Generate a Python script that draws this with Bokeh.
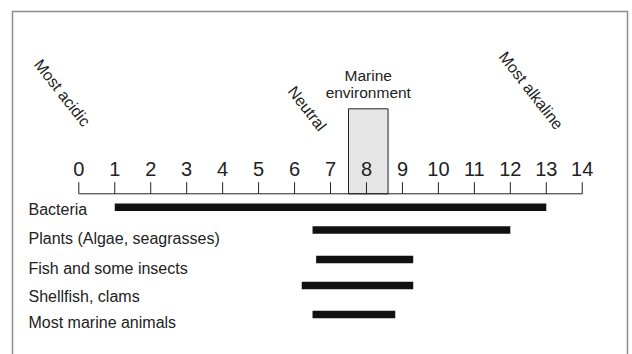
from bokeh.plotting import figure
from bokeh.models import Range1d, ColumnDataSource
from bokeh.core.properties import value
from bokeh.embed import file_html
from bokeh.resources import INLINE

# ---------------- data ----------------
categories = ["Bacteria", "Plants (Algae, seagrasses)", "Fish and some insects",
              "Shellfish, clams", "Most marine animals"]
ph_low = [1.0, 6.5, 6.6, 6.2, 6.5]
ph_high = [13.0, 12.0, 9.3, 9.3, 8.8]
tick_values = list(range(0, 15))
tick_labels = [str(t) for t in tick_values]
marine_env_low, marine_env_high = 7.5, 8.6
scale_notes = ["Most acidic", "Neutral", "Most alkaline"]

# ---------------- layout (pixels from top of figure) ----------------
W, H = 632, 354
PH0_PX = 78.3        # horizontal pixel of pH 0
PX_PER_PH = 35.96
x_start = -PH0_PX / PX_PER_PH
x_end = x_start + W / PX_PER_PH


def px2x(px):
    return x_start + px / PX_PER_PH


row_y = [206.7, 229.5, 259.0, 285.0, 314.0]
label_y = [209.0, 238.0, 268.0, 296.0, 322.0]
axis_y = 193.3
tick_top = 181.7
tick_label_y = 168.5
box_top = 108.3
note_x = [-0.46, 6.35, 12.58]
note_y = [92.3, 108.0, 90.0]

FONT = value("Liberation Sans")
TXT = "#222222"

p = figure(width=W, height=H, x_range=Range1d(x_start, x_end),
           y_range=Range1d(H, 0), output_backend="svg", toolbar_location=None,
           min_border=0, x_axis_location=None, y_axis_location=None)
p.grid.visible = False
p.outline_line_color = None
p.background_fill_color = "white"
p.border_fill_color = "white"

# frame
p.line(x=[px2x(12), px2x(12), px2x(627), px2x(627)], y=[H + 10, 11, 11, H + 10],
       line_color="#8c8c8c", line_width=1.5)

# marine environment box
p.quad(left=[marine_env_low], right=[marine_env_high], top=[box_top], bottom=[axis_y],
       fill_color="#e6e6e6", line_color="#222222", line_width=1)

# axis line and ticks
p.segment(x0=[tick_values[0]], x1=[tick_values[-1]], y0=[axis_y], y1=[axis_y],
          line_color="#222222", line_width=1)
p.segment(x0=tick_values, x1=tick_values, y0=[tick_top] * len(tick_values),
          y1=[axis_y] * len(tick_values), line_color="#222222", line_width=1)
p.text(x=tick_values, y=[tick_label_y] * len(tick_values), text=tick_labels,
       text_align="center", text_baseline="middle", text_font=FONT,
       text_font_size="20px", text_color=TXT)

# marine environment label
p.text(x=[(marine_env_low + marine_env_high) / 2] * 2, y=[75.0, 91.7],
       text=["Marine", "environment"], text_align="center", text_baseline="middle",
       text_font=FONT, text_font_size="15.5px", text_color=TXT)

# rotated notes
p.text(x=note_x, y=note_y, text=scale_notes, angle=-52, angle_units="deg",
       text_align="center", text_baseline="middle", text_font=FONT,
       text_font_size="16px", text_color=TXT)

# tolerance bars
src = ColumnDataSource(dict(y=row_y, left=ph_low, right=ph_high))
p.hbar(y="y", left="left", right="right", height=7.5, source=src,
       fill_color="#111111", line_color=None)

# category labels
p.text(x=[px2x(28)] * len(categories), y=label_y, text=categories,
       text_align="left", text_baseline="middle", text_font=FONT,
       text_font_size="16px", text_color=TXT)

open("out.html", "w").write(file_html(p, INLINE))
